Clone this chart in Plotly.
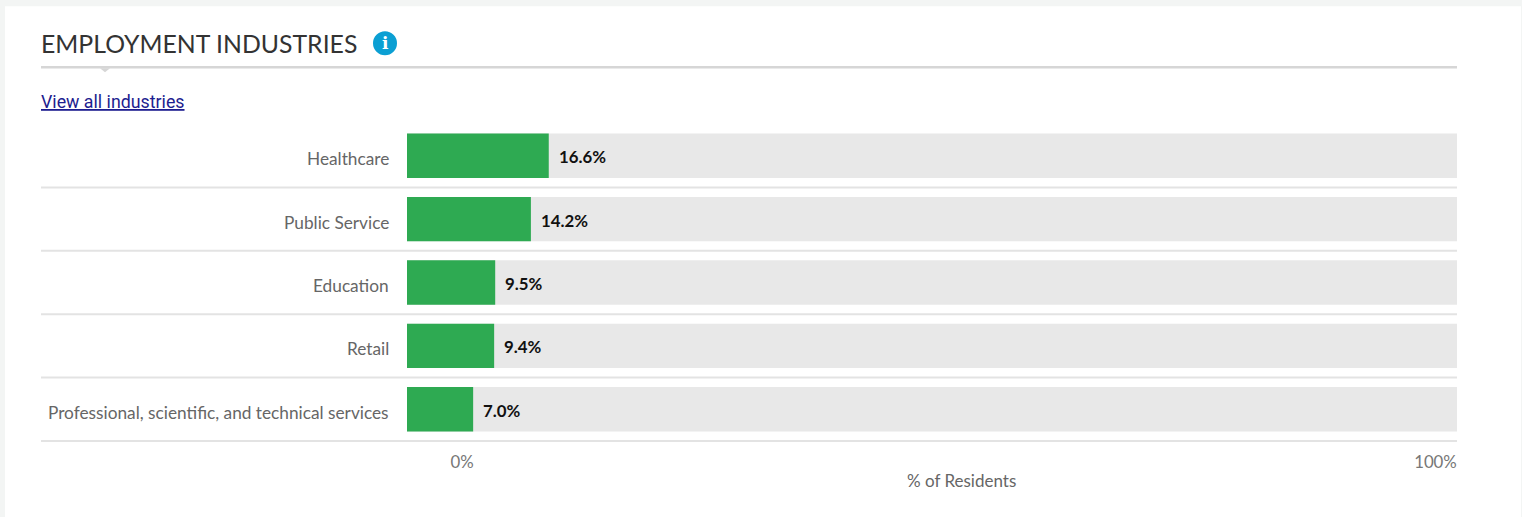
import plotly.graph_objects as go

categories = ["Healthcare", "Public Service", "Education", "Retail",
              "Professional, scientific, and technical services"]
value_labels = ["16.6%", "14.2%", "9.5%", "9.4%", "7.0%"]
# Bar lengths as drawn in the picture, as % of the grey track
bar_lengths = [13.5, 11.8, 8.4, 8.3, 6.3]
track_lengths = [100, 100, 100, 100, 100]
tick_labels = ["0%", "100%"]

W, H = 1522, 517
L, R, T, B = 407, 1457, 123.8, 441.0
px = lambda v: (v - L) / (R - L)
py = lambda v: 1 - (v - T) / (B - T)
LATO = "Lato, 'Open Sans', sans-serif"

fig = go.Figure()
fig.add_bar(y=categories, x=track_lengths, orientation="h", width=0.7,
            marker=dict(color="#e8e8e8", line_width=0), hoverinfo="skip")
fig.add_bar(y=categories, x=bar_lengths, orientation="h", width=0.7,
            marker=dict(color="#2eaa52", line_width=0), hovertext=value_labels, hoverinfo="text")

shapes = [
    dict(type="rect", xref="paper", yref="paper", x0=px(5), x1=px(1521), y0=py(6), y1=py(530),
         fillcolor="white", line_width=0, layer="below"),
    dict(type="line", xref="paper", yref="paper", x0=px(41), x1=px(1457), y0=py(67), y1=py(67),
         line=dict(color="#d6d6d6", width=2.5)),
    dict(type="path", xref="paper", yref="paper", fillcolor="#d6d6d6", line_width=0,
         path=f"M {px(100)} {py(68)} L {px(110)} {py(68)} L {px(105)} {py(72)} Z"),
    dict(type="circle", xref="paper", yref="paper", x0=px(373), x1=px(397), y0=py(31), y1=py(55),
         fillcolor="#0b9fd3", line_width=0),
]
for k in range(5):
    sy = T + (B - T) * (k + 1) / 5
    shapes.append(dict(type="line", xref="paper", yref="paper", x0=px(41), x1=px(1457),
                       y0=py(sy), y1=py(sy), line=dict(color="#e3e3e3", width=2)))

ann = [
    dict(text="EMPLOYMENT INDUSTRIES", x=px(39), y=py(43), xanchor="left",
         font=dict(family=LATO, size=24.8, color="#333333")),
    dict(text="<b>i</b>", x=px(385), y=py(43), xanchor="center",
         font=dict(family="DejaVu Serif", size=17, color="white")),
    dict(text="<u>View all industries</u>", x=px(39), y=py(101),
         xanchor="left", font=dict(family="Roboto", size=17.8, color="#1d1d8f")),
    dict(text="% of Residents", x=px(961.5), y=py(481), xanchor="center",
         font=dict(family=LATO, size=17, color="#666666")),
]
for k, c in enumerate(categories):
    sy = T + (B - T) * (k + 0.5) / 5 + 3
    ann.append(dict(text=c, x=px(391), y=py(sy), xanchor="right",
                    font=dict(family=LATO, size=17.25, color="#666666")))
for a in ann:
    a.update(xref="paper", yref="paper", yanchor="middle", showarrow=False)
for c, v, t in zip(categories, bar_lengths, value_labels):
    ann.append(dict(text=t, x=v, y=c, xref="x", yref="y", xanchor="left", yanchor="middle",
                    xshift=8, yshift=-1, showarrow=False,
                    font=dict(family=LATO, size=16.8, color="#111111", weight=700)))

fig.update_layout(
    width=W, height=H, barmode="overlay", showlegend=False,
    margin=dict(l=L, r=W - R, t=T, b=H - B, pad=0),
    paper_bgcolor="#f3f5f4", plot_bgcolor="rgba(0,0,0,0)",
    shapes=shapes, annotations=ann,
    font=dict(family=LATO),
    xaxis=dict(range=[0, 100], tickmode="array", tickvals=[5.25, 97.95], ticktext=tick_labels,
               showgrid=False, zeroline=False, showline=False, ticks="", ticklabelstandoff=9,
               tickfont=dict(family=LATO, size=16.8, color="#777777"), fixedrange=True),
    yaxis=dict(autorange="reversed", showticklabels=False, showgrid=False, zeroline=False,
               showline=False, ticks="", fixedrange=True),
)
fig.write_html("out.html", config=dict(displayModeBar=False),
               post_script="document.body.style.margin='0';document.body.style.overflow='hidden';")
